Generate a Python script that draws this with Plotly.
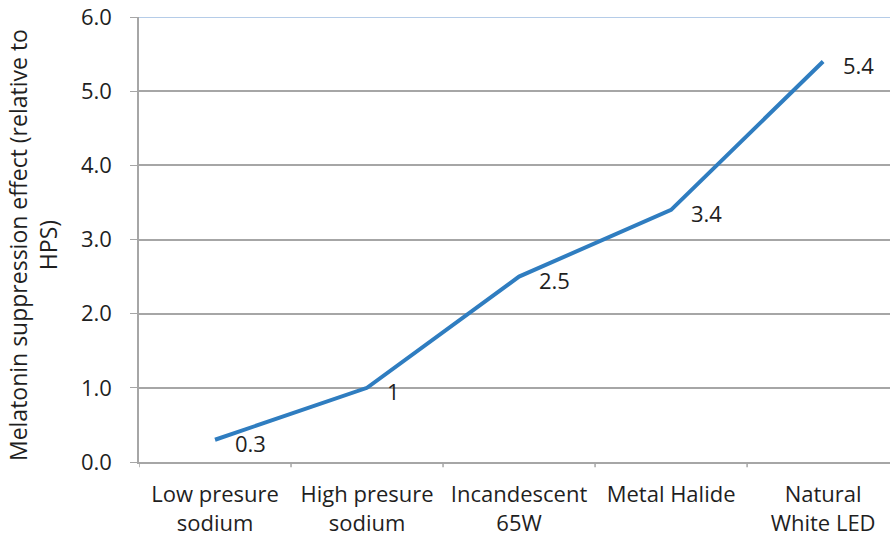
import plotly.graph_objects as go

categories = ["Low presure<br>sodium", "High presure<br>sodium", "Incandescent<br>65W",
              "Metal Halide", "Natural<br>White LED"]
values = [0.3, 1, 2.5, 3.4, 5.4]
labels = ["0.3", "1", "2.5", "3.4", "5.4"]
y_ticks = [0, 1, 2, 3, 4, 5, 6]
y_tick_text = ["0.0", "1.0", "2.0", "3.0", "4.0", "5.0", "6.0"]
y_title = "Melatonin suppression effect (relative to<br>HPS)"

FONT = "'Open Sans', 'Noto Sans', sans-serif"
TEXT = "#1f1f1f"
FS = 22

x_pos = list(range(len(categories)))

fig = go.Figure()
fig.add_trace(go.Scatter(
    x=x_pos,
    y=values,
    mode="lines",
    line=dict(color="#2f7dc0", width=4),
    showlegend=False,
))

# value labels to the right of each point
for xi, yi, lab in zip(x_pos, values, labels):
    fig.add_annotation(x=xi, y=yi, text=lab, showarrow=False,
                       xanchor="left", yanchor="middle", xshift=18, yshift=-3,
                       font=dict(family=FONT, size=FS, color=TEXT))

# rotated y-axis title
fig.add_annotation(xref="paper", yref="paper", x=-0.1411, y=0.4876,
                   xanchor="center", yanchor="middle", text=y_title,
                   textangle=-90, showarrow=False,
                   font=dict(family=FONT, size=23, color=TEXT))

# light blue top border of the plot area
fig.add_shape(type="line", xref="paper", yref="y", x0=0, x1=1, y0=6, y1=6,
              line=dict(color="#9dbbe0", width=1.5))

fig.update_layout(
    width=890, height=539,
    margin=dict(l=139, r=0, t=17, b=77),
    paper_bgcolor="white", plot_bgcolor="white",
    font=dict(family=FONT, size=FS, color=TEXT),
    xaxis=dict(
        range=[-0.5, 4.44],
        tickmode="array",
        tickvals=x_pos,
        ticktext=categories,
        showgrid=False,
        zeroline=False,
        showline=True, linecolor="#a6a6a6", linewidth=1.5,
        ticks="", tickfont=dict(size=FS, color=TEXT),
        ticklabelstandoff=12,
    ),
    yaxis=dict(
        range=[0, 6],
        tickmode="array",
        tickvals=y_ticks,
        ticktext=y_tick_text,
        showgrid=True, gridcolor="#a6a6a6", gridwidth=1.5,
        zeroline=False,
        showline=True, linecolor="#a6a6a6", linewidth=1.5,
        ticks="outside", ticklen=7, tickcolor="#a6a6a6",
        tickfont=dict(size=FS, color=TEXT),
        ticklabelstandoff=14,
    ),
)

# category boundary tick marks along the x axis
for b in [-0.5, 0.5, 1.5, 2.5, 3.5, 4.5]:
    fig.add_shape(type="line", xref="x", yref="paper", x0=b, x1=b, y0=0, y1=-0.012,
                  line=dict(color="#a6a6a6", width=1.5))

fig.write_html("out.html")
